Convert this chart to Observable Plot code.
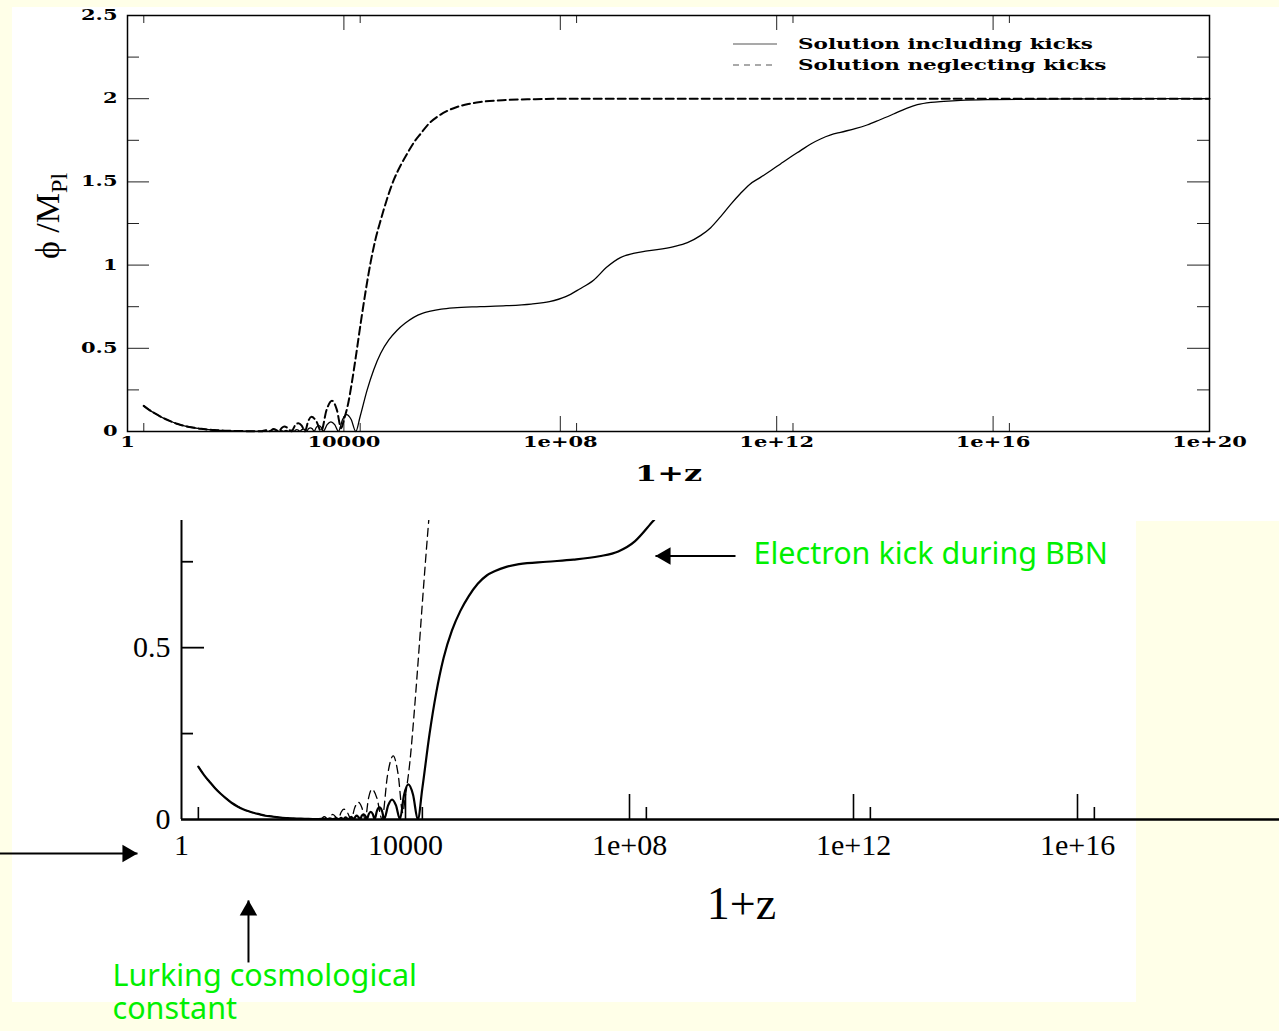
<!DOCTYPE html>
<html><head><meta charset="utf-8">
<script src="https://cdn.jsdelivr.net/npm/d3@7"></script>
<script src="https://cdn.jsdelivr.net/npm/@observablehq/plot@0.6"></script>
<style>
html,body{margin:0;padding:0;background:#FFFFE8;width:1279px;height:1031px;overflow:hidden;}
.abs{position:absolute;}
</style></head><body>
<div class="abs" style="left:12px;top:7px;width:1267px;height:514px;background:#fff"></div>
<div class="abs" style="left:12px;top:521px;width:1124px;height:481px;background:#fff"></div>
<div id="top" class="abs" style="left:12px;top:7px;"></div>
<div id="bottom" class="abs" style="left:0px;top:500px;"></div>
<script>
// ---- data: log10(1+z) and phi/M_Pl ----
const includingExp = [0.3,0.4,0.5,0.6,0.7,0.8,0.9,1.0,1.1,1.2,1.3,1.4,1.5,1.6,1.7,1.8,1.9,2.0,2.2,2.4,
 2.5,2.6,2.65,2.7,2.76,2.81,2.85,2.89,2.93,2.98,3.03,3.08,3.105,3.13,3.155,3.19,3.22,3.25,3.28,3.31,3.345,3.38,3.415,3.45,3.49,3.535,3.58,3.62,3.69,3.76,3.83,3.9,3.975,4.05,4.135,4.22,
 4.3,4.43,4.55,4.68,4.83,4.98,5.13,5.29,5.45,5.6,5.8,6.03,6.52,7.0,7.46,7.8,8.1,8.35,8.62,8.85,9.11,9.35,9.61,10.1,10.35,10.59,10.78,10.96,11.15,11.33,11.5,11.7,11.9,12.07,12.25,12.44,12.63,12.81,13.0,13.18,13.45,13.67,13.9,14.16,14.4,14.6,14.85,15.09,15.4,16,17,18,19,20];
const includingPhi = [0.154,0.13,0.11,0.091,0.075,0.061,0.048,0.038,0.03,0.024,0.019,0.015,0.011,0.009,0.007,0.005,0.004,0.003,0.002,0.001,
 0.002,0.001,0.003,0.001,0.004,0.001,0.005,0.001,0.006,0.001,0.008,0.001,0.008,0.011,0.008,0.001,0.011,0.015,0.011,0.001,0.016,0.022,0.016,0.001,0.025,0.035,0.025,0.001,0.041,0.058,0.041,0.001,0.072,0.102,0.072,0.0,
 0.09,0.25,0.37,0.47,0.55,0.607,0.65,0.686,0.71,0.723,0.735,0.743,0.75,0.756,0.766,0.78,0.81,0.855,0.911,0.985,1.045,1.07,1.085,1.111,1.135,1.177,1.225,1.29,1.365,1.43,1.485,1.527,1.57,1.608,1.648,1.688,1.728,1.758,1.782,1.798,1.82,1.842,1.872,1.908,1.942,1.964,1.978,1.984,1.99,1.995,1.998,1.999,2.0,2.0];

const neglectingExp = [0.3,0.4,0.5,0.6,0.7,0.8,0.9,1.0,1.1,1.2,1.3,1.4,1.5,1.6,1.7,1.8,1.9,2.0,2.2,2.4,
 2.48,2.55,2.62,2.7,2.8,2.85,2.9,2.96,3.03,3.095,3.16,3.22,3.28,3.34,3.4,3.49,3.58,3.68,3.78,3.87,3.95,4.0,4.08,4.15,4.23,4.31,4.4,4.49,4.58,4.68,4.8,4.92,5.05,5.17,5.3,5.42,5.57,5.72,5.9,6.09,6.3,6.52,7.0,7.5,8.0,12,16,20];
const neglectingPhi = [0.154,0.13,0.11,0.091,0.075,0.061,0.048,0.038,0.03,0.024,0.019,0.015,0.011,0.009,0.007,0.005,0.004,0.003,0.002,0.001,
 0.001,0.008,0.001,0.015,0.001,0.021,0.03,0.021,0.001,0.035,0.05,0.035,0.001,0.062,0.088,0.062,0.002,0.13,0.185,0.13,0.02,0.07,0.17,0.3,0.47,0.65,0.84,1.01,1.15,1.27,1.4,1.51,1.6,1.67,1.74,1.79,1.85,1.89,1.925,1.95,1.968,1.98,1.992,1.997,2.0,2.0,2.0,2.0];

const seriesNames = ["Solution including kicks", "Solution neglecting kicks"];

// top panel ticks
const topXTickValues = [1,1e4,1e8,1e12,1e16,1e20];
const topXTickLabels = ["1","10000","1e+08","1e+12","1e+16","1e+20"];
const topXMajor = [1e4,1e8,1e12,1e16];
const topXMinor = [2,2e4,2e8,2e12,2e16];
const topYTickValues = [0,0.5,1,1.5,2,2.5];
const topYTickLabels = ["0","0.5","1","1.5","2","2.5"];
const topYMajor = [0.5,1,1.5,2];
const topYMinor = [0.25,0.75,1.25,1.75,2.25];
const xTitle = ["1+z"];
const yTitleMain = "\u03D5 /M", yTitleSub = "Pl";

// bottom panel ticks
const botXTickValues = [1,1e4,1e8,1e12,1e16];
const botXTickLabels = ["1","10000","1e+08","1e+12","1e+16"];
const botXMajor = [1e4,1e8,1e12,1e16];
const botXMinor = [2,2e4,2e8,2e12,2e16];
const botYTickValues = [0,0.5];
const botYTickLabels = ["0","0.5"];
const botYMajor = [0.5];
const botYMinor = [0.25,0.75];

// annotations (log10(1+z), phi)
const bbnArrow = [{x1: 9.893, y1: 0.767, x2: 8.464, y2: 0.767}];
const leftArrow = [{x1: -3.3, y1: -0.099, x2: -0.786, y2: -0.099}];
const upArrow = [{x1: 1.196, y1: -0.416, x2: 1.196, y2: -0.2355}];
const noteBBN = [{x: 10.214, y: 0.772, text: "Electron kick during BBN"}];
const noteLambda = [{x: -1.232, y: -0.414, text: "Lurking cosmological\nconstant"}];

const including = includingExp.map((e,i) => ({x: 10**e, y: includingPhi[i]}));
const neglecting = neglectingExp.map((e,i) => ({x: 10**e, y: neglectingPhi[i]}));
const toPow = arr => arr.map(d => ({x1: 10**d.x1, y1: d.y1, x2: 10**d.x2, y2: d.y2}));

// ---------- TOP PANEL ----------
const TW = 1267, TH = 500, tml = 115, tmr = 70, tmt = 8, tmb = 76;
const tFW = TW - tml - tmr, tFH = TH - tmt - tmb;
const fmtFrom = (vals, labels) => d => labels[vals.indexOf(d)];
const tickStroke = "#222";
const topSvg = Plot.plot({
  width: TW, height: TH, marginLeft: tml, marginRight: tmr, marginTop: tmt, marginBottom: tmb,
  style: {background: "transparent", fontFamily: "'DejaVu Serif', serif", color: "black", overflow: "visible"},
  x: {type: "log", domain: [1, 1e20]},
  y: {domain: [0, 2.5]},
  marks: [
    Plot.tickX(topXMajor, {x: d => d, insetTop: tFH - 15, stroke: tickStroke}),
    Plot.tickX(topXMajor, {x: d => d, insetBottom: tFH - 15, stroke: tickStroke}),
    Plot.tickX(topXMinor, {x: d => d, insetTop: tFH - 8, stroke: tickStroke}),
    Plot.tickX(topXMinor, {x: d => d, insetBottom: tFH - 8, stroke: tickStroke}),
    Plot.tickY(topYMajor, {y: d => d, insetRight: tFW - 22, stroke: tickStroke}),
    Plot.tickY(topYMajor, {y: d => d, insetLeft: tFW - 22, stroke: tickStroke}),
    Plot.tickY(topYMinor, {y: d => d, insetRight: tFW - 12, stroke: tickStroke}),
    Plot.tickY(topYMinor, {y: d => d, insetLeft: tFW - 12, stroke: tickStroke}),
    Plot.line(neglecting, {x: "x", y: "y", stroke: "black", strokeWidth: 2, strokeDasharray: "8,4", curve: "monotone-x"}),
    Plot.line(including, {x: "x", y: "y", stroke: "black", strokeWidth: 1.3, curve: "monotone-x"}),
    Plot.frame({stroke: "black", strokeWidth: 1.5}),
    Plot.axisX(topXTickValues, {tickSize: 0, tickPadding: 6, fontSize: 14, fontWeight: "bold", tickFormat: fmtFrom(topXTickValues, topXTickLabels), label: null}),
    Plot.axisY(topYTickValues, {tickSize: 0, tickPadding: 10, fontSize: 14, fontWeight: "bold", tickFormat: fmtFrom(topYTickValues, topYTickLabels), label: null}),
    Plot.text(xTitle, {text: d => d, frameAnchor: "bottom", dy: 49, fontSize: 22, fontWeight: "bold"})
  ]
});
document.getElementById("top").appendChild(topSvg);

function stretchText(nodes, sx) {
  nodes.forEach(t => {
    const tr = t.getAttribute("transform");
    if (tr) t.setAttribute("transform", tr + ` scale(${sx},1)`);
    else {
      const x = parseFloat(t.getAttribute("x")) || 0;
      t.removeAttribute("x");
      t.setAttribute("transform", `translate(${x},0) scale(${sx},1)`);
    }
  });
}
stretchText(topSvg.querySelectorAll('g[aria-label$="tick label"] text'), 1.5);
stretchText(Array.from(topSvg.querySelectorAll('text')).filter(t => t.textContent === "1+z"), 1.45);

// y title with subscript
const ts = d3.select(topSvg);
const yt = ts.append("text")
  .attr("transform", `translate(${59 - 12},${216 - 7}) rotate(-90)`)
  .attr("text-anchor", "middle")
  .attr("font-family", "'Liberation Serif', serif")
  .attr("font-size", 34)
  .attr("fill", "black");
yt.append("tspan").text(yTitleMain);
yt.append("tspan").attr("dy", 8).attr("font-size", 24).text(yTitleSub);

// legend inside the top frame
const lg = ts.append("g").attr("text-anchor", "start");
const legendRows = [{y: 37, dash: null}, {y: 58, dash: "6,5"}];
legendRows.forEach((r, i) => {
  lg.append("line").attr("x1", 721).attr("x2", 765).attr("y1", r.y).attr("y2", r.y)
    .attr("stroke", "#555").attr("stroke-width", 1.2).attr("stroke-dasharray", r.dash);
  lg.append("text").attr("transform", `translate(786,${r.y + 5}) scale(1.54,1)`)
    .attr("text-anchor", "start")
    .attr("font-family", "'DejaVu Serif', serif").attr("font-weight", "bold").attr("font-size", 14)
    .attr("fill", "black").text(seriesNames[i]);
});

// ---------- BOTTOM PANEL ----------
const BW = 1279, BH = 531, bml = 181, bmr = 0, bmt = 20, bmb = 212;
const bFW = BW - bml - bmr, bFH = BH - bmt - bmb;
const green = "#00f000";
const bottomSvg = Plot.plot({
  width: BW, height: BH, marginLeft: bml, marginRight: bmr, marginTop: bmt, marginBottom: bmb,
  style: {background: "transparent", fontFamily: "'Liberation Serif', serif", color: "black", overflow: "visible"},
  x: {type: "log", domain: [1, 1e20], range: [181, 181 + 20 * 56]},
  y: {domain: [0, 0.87]},
  marks: [
    Plot.line(neglecting, {x: "x", y: "y", stroke: "black", strokeWidth: 1.3, strokeDasharray: "8,5", curve: "monotone-x", clip: true}),
    Plot.line(including, {x: "x", y: "y", stroke: "black", strokeWidth: 2.2, curve: "monotone-x", clip: true}),
    Plot.ruleX([1], {stroke: "black", strokeWidth: 2}),
    Plot.ruleY([0], {stroke: "black", strokeWidth: 2.5}),
    Plot.tickY(botYMajor, {y: d => d, insetRight: bFW - 23, stroke: "black", strokeWidth: 1.8}),
    Plot.tickY(botYMinor, {y: d => d, insetRight: bFW - 12, stroke: "black", strokeWidth: 1.8}),
    Plot.tickX(botXMajor, {x: d => d, insetTop: bFH - 25, stroke: "black", strokeWidth: 1.6}),
    Plot.tickX(botXMinor, {x: d => d, insetTop: bFH - 12, stroke: "black", strokeWidth: 1.6}),
    Plot.axisX(botXTickValues, {tickSize: 0, tickPadding: 14, fontSize: 30, tickFormat: fmtFrom(botXTickValues, botXTickLabels), label: null}),
    Plot.axisY(botYTickValues, {tickSize: 0, tickPadding: 11, fontSize: 30, tickFormat: fmtFrom(botYTickValues, botYTickLabels), label: null}),
    Plot.text(xTitle, {text: d => d, frameAnchor: "bottom", dx: 11, dy: 99, fontSize: 46}),
    // annotations
    Plot.link(toPow([...bbnArrow, ...leftArrow, ...upArrow]), {x1: "x1", y1: "y1", x2: "x2", y2: "y2", stroke: "black", strokeWidth: 2}),
    Plot.dot(toPow(bbnArrow), {x: "x2", y: "y2", symbol: "triangle", rotate: -90, r: 6.5, fill: "black", stroke: null, dx: 10}),
    Plot.dot(toPow(leftArrow), {x: "x2", y: "y2", symbol: "triangle", rotate: 90, r: 6.5, fill: "black", stroke: null, dx: -10}),
    Plot.dot(toPow(upArrow), {x: "x2", y: "y2", symbol: "triangle", rotate: 0, r: 6.5, fill: "black", stroke: null, dy: 10}),
    Plot.text(noteBBN, {x: d => 10 ** d.x, y: "y", text: "text", textAnchor: "start", fill: green, fontSize: 30.5, fontFamily: "'Noto Sans', sans-serif"}),
    Plot.text(noteLambda, {x: d => 10 ** d.x, y: "y", text: "text", textAnchor: "start", lineAnchor: "top", lineHeight: 1.1, fill: green, fontSize: 30.5, fontFamily: "'Noto Sans', sans-serif"})
  ]
});
document.getElementById("bottom").appendChild(bottomSvg);
</script>
</body></html>
